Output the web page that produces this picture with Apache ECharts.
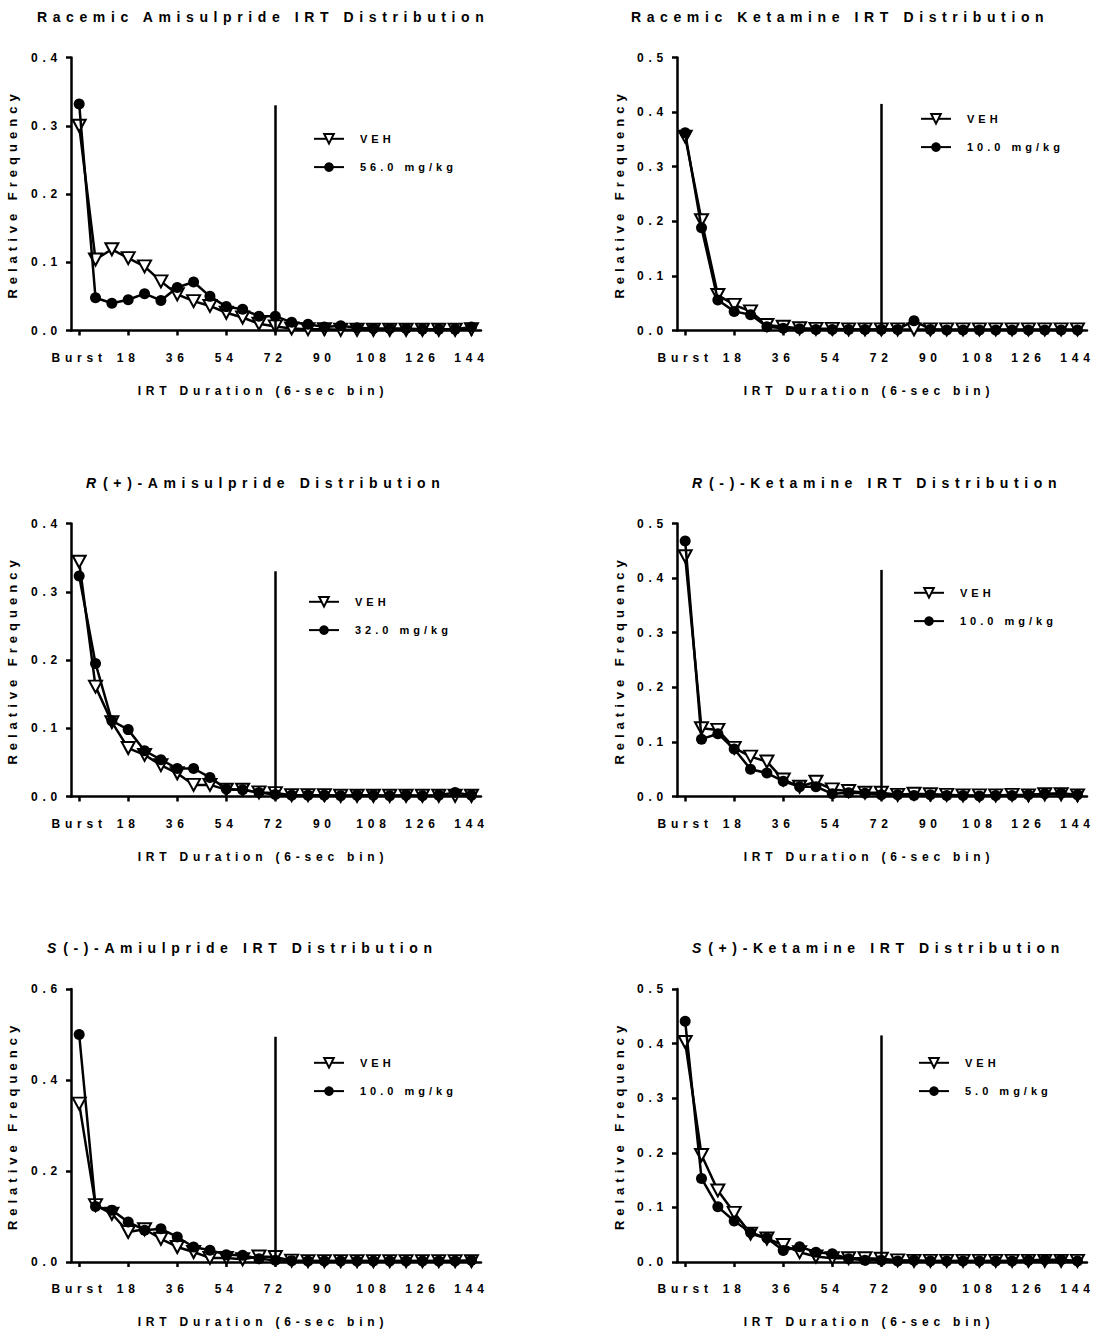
<!DOCTYPE html>
<html>
<head>
<meta charset="utf-8">
<script src="https://cdn.jsdelivr.net/npm/echarts@6/dist/echarts.min.js"></script>
<style>
  html, body { margin: 0; padding: 0; background: #fff; }
  #chart { width: 1099px; height: 1332px; }
  #chart svg text { letter-spacing: 5px; }
  #chart svg text[style*="14px"] { letter-spacing: 5.6px; }
  #chart svg text[style*="13px"] { letter-spacing: 5px; }
  #chart svg text[style*="12px"] { letter-spacing: 4.8px; }
  #chart svg text[style*="11px"] { letter-spacing: 4px; }
  #chart svg text[style*="italic"] { letter-spacing: 0px; }
</style>
</head>
<body>
<div id="chart"></div>
<script>
// ---- data ----
const bins = [0, 6, 12, 18, 24, 30, 36, 42, 48, 54, 60, 66, 72, 78, 84, 90, 96, 102, 108, 114, 120, 126, 132, 138, 144];
const xTickValues = [0, 18, 36, 54, 72, 90, 108, 126, 144];
const xTickLabels = ['Burst', '18', '36', '54', '72', '90', '108', '126', '144'];

const titles = [
  'Racemic Amisulpride IRT Distribution',
  'Racemic Ketamine IRT Distribution',
  '{i|R}(+)-Amisulpride Distribution',
  '{i|R}(-)-Ketamine IRT Distribution',
  '{i|S}(-)-Amiulpride IRT Distribution',
  '{i|S}(+)-Ketamine IRT Distribution'
];
const vehName = 'VEH';
const doseNames = ['56.0 mg/kg', '10.0 mg/kg', '32.0 mg/kg', '10.0 mg/kg', '10.0 mg/kg', '5.0 mg/kg'];
const yMax = [0.4, 0.5, 0.4, 0.5, 0.6, 0.5];
const yInterval = [0.1, 0.1, 0.1, 0.1, 0.2, 0.1];
const cutoffX = 72;
const cutoffTop = [0.33, 0.415, 0.33, 0.415, 0.495, 0.415];

const vehRacAmi  = [0.300,0.104,0.119,0.106,0.094,0.072,0.053,0.043,0.036,0.026,0.019,0.010,0.006,0.003,0.002,0.002,0.001,0.001,0.001,0.001,0.001,0.001,0.001,0.001,0.002];
const doseRacAmi = [0.332,0.048,0.040,0.045,0.054,0.044,0.063,0.071,0.050,0.035,0.031,0.021,0.021,0.012,0.009,0.005,0.007,0.004,0.003,0.003,0.003,0.002,0.002,0.002,0.005];
const vehRacKet  = [0.355,0.202,0.065,0.047,0.035,0.010,0.007,0.004,0.003,0.003,0.002,0.002,0.002,0.002,0.002,0.002,0.002,0.002,0.002,0.002,0.002,0.002,0.002,0.002,0.002];
const doseRacKet = [0.362,0.188,0.056,0.035,0.029,0.007,0.004,0.003,0.002,0.002,0.002,0.002,0.002,0.002,0.018,0.002,0.001,0.001,0.001,0.001,0.001,0.001,0.001,0.001,0.001];
const vehRAmi    = [0.344,0.161,0.109,0.071,0.061,0.046,0.034,0.017,0.017,0.010,0.010,0.006,0.005,0.002,0.002,0.002,0.001,0.001,0.001,0.001,0.001,0.001,0.001,0.001,0.001];
const doseRAmi   = [0.323,0.195,0.111,0.098,0.067,0.054,0.041,0.041,0.028,0.011,0.010,0.006,0.003,0.002,0.002,0.002,0.001,0.002,0.002,0.001,0.002,0.001,0.002,0.006,0.002];
const vehRKet    = [0.440,0.125,0.122,0.089,0.073,0.064,0.031,0.018,0.027,0.013,0.010,0.007,0.007,0.003,0.005,0.004,0.003,0.002,0.002,0.002,0.003,0.002,0.004,0.004,0.002];
const doseRKet   = [0.468,0.105,0.115,0.087,0.050,0.043,0.028,0.018,0.018,0.005,0.007,0.006,0.003,0.003,0.002,0.003,0.002,0.002,0.001,0.002,0.002,0.003,0.005,0.006,0.003];
const vehSAmi    = [0.348,0.125,0.106,0.066,0.072,0.051,0.033,0.022,0.009,0.009,0.006,0.012,0.011,0.003,0.002,0.002,0.002,0.002,0.002,0.002,0.002,0.002,0.002,0.002,0.002];
const doseSAmi   = [0.500,0.122,0.114,0.088,0.070,0.073,0.055,0.033,0.026,0.016,0.015,0.007,0.004,0.003,0.002,0.002,0.002,0.002,0.002,0.002,0.002,0.002,0.002,0.002,0.004];
const vehSKet    = [0.403,0.196,0.131,0.090,0.052,0.043,0.031,0.018,0.010,0.007,0.007,0.007,0.006,0.003,0.002,0.002,0.002,0.002,0.002,0.002,0.002,0.002,0.002,0.002,0.002];
const doseSKet   = [0.441,0.153,0.101,0.075,0.054,0.044,0.021,0.028,0.018,0.015,0.006,0.003,0.003,0.002,0.003,0.002,0.002,0.002,0.002,0.002,0.002,0.003,0.004,0.004,0.002];

const vehSeries  = [vehRacAmi, vehRacKet, vehRAmi, vehRKet, vehSAmi, vehSKet];
const doseSeries = [doseRacAmi, doseRacKet, doseRAmi, doseRKet, doseSAmi, doseSKet];

// ---- layout ----
const FONT = '"Liberation Sans", Arial, Helvetica, sans-serif';
const gridLeft = [71, 677];
const gridTop = [57.5, 523.5, 989];
const gridW = 410, gridH = 273;
const titleLeft = [37, 631, 86, 692, 47, 692];
const titleTop = [10, 476, 941];
const legendPos = [[313, 133], [920, 113], [308, 596], [913, 587], [313, 1057], [918, 1057]];
const yNameGap = [52, 51];

const option = {
  animation: false,
  backgroundColor: '#fff',
  title: [], grid: [], xAxis: [], yAxis: [], legend: [], series: []
};

for (let p = 0; p < 6; p++) {
  const col = p % 2, row = Math.floor(p / 2);
  option.title.push({
    text: titles[p],
    left: titleLeft[p], top: titleTop[row], padding: 0,
    textStyle: {
      fontFamily: FONT, fontSize: 14, fontWeight: 'bold', color: '#000',
      rich: { i: { fontFamily: FONT, fontSize: 14, fontWeight: 'bold', fontStyle: 'italic', color: '#000', padding: [0, 7, 0, 0] } }
    }
  });
  option.grid.push({
    left: gridLeft[col], top: gridTop[row], width: gridW, height: gridH,
    outerBoundsMode: 'none', containLabel: false
  });
  option.xAxis.push({
    type: 'value', gridIndex: p, min: -3, max: 147.5,
    name: 'IRT Duration (6-sec bin)', nameLocation: 'middle', nameGap: 54,
    nameTextStyle: { fontFamily: FONT, fontSize: 12, fontWeight: 'bold', color: '#000', padding: [0, 26, 0, 0] },
    axisLine: { onZero: false, lineStyle: { color: '#000', width: 2.5 } },
    axisTick: { show: true, inside: false, length: 5, lineStyle: { color: '#000', width: 2.5 }, customValues: xTickValues },
    axisLabel: {
      customValues: xTickValues, margin: 21,
      fontFamily: FONT, fontSize: 12, fontWeight: 'bold', color: '#000',
      formatter: v => xTickLabels[xTickValues.indexOf(v)] ?? String(v)
    },
    splitLine: { show: false }
  });
  option.yAxis.push({
    type: 'value', gridIndex: p, min: 0, max: yMax[p], interval: yInterval[p],
    name: 'Relative Frequency', nameLocation: 'middle', nameGap: yNameGap[col], nameRotate: 90,
    nameTextStyle: { fontFamily: FONT, fontSize: 13, fontWeight: 'bold', color: '#000' },
    axisLine: { show: true, onZero: false, lineStyle: { color: '#000', width: 2.5 } },
    axisTick: { show: true, inside: false, length: 5, lineStyle: { color: '#000', width: 2.5 } },
    axisLabel: {
      margin: 9, fontFamily: FONT, fontSize: 12, fontWeight: 'bold', color: '#000',
      formatter: v => v.toFixed(1)
    },
    splitLine: { show: false }
  });
  option.legend.push({
    left: legendPos[p][0], top: legendPos[p][1], orient: 'vertical', padding: 0,
    itemWidth: 30, itemHeight: 12, itemGap: 17, selectedMode: false,
    data: [vehName, doseNames[p]],
    textStyle: { fontFamily: FONT, fontSize: 11, fontWeight: 'bold', color: '#000', padding: [0, 0, 0, 11] }
  });
  option.series.push({
    type: 'line', name: vehName, xAxisIndex: p, yAxisIndex: p,
    data: bins.map((b, i) => [b, vehSeries[p][i]]),
    symbol: 'triangle', symbolRotate: 180, symbolSize: [13, 12],
    itemStyle: { color: '#fff', borderColor: '#000', borderWidth: 2 },
    lineStyle: { color: '#000', width: 2.5 },
    markLine: {
      silent: true, symbol: 'none', label: { show: false },
      lineStyle: { color: '#000', width: 2.5, type: 'solid' },
      data: [[{ coord: [cutoffX, 0] }, { coord: [cutoffX, cutoffTop[p]] }]]
    },
    z: 2
  });
  option.series.push({
    type: 'line', name: doseNames[p], xAxisIndex: p, yAxisIndex: p,
    data: bins.map((b, i) => [b, doseSeries[p][i]]),
    symbol: 'circle', symbolSize: 11,
    itemStyle: { color: '#000', borderColor: '#000', borderWidth: 0 },
    lineStyle: { color: '#000', width: 2.5 },
    z: 3
  });
}

const chart = echarts.init(document.getElementById('chart'), null, { renderer: 'svg', width: 1099, height: 1332 });
chart.setOption(option);
</script>
</body>
</html>
